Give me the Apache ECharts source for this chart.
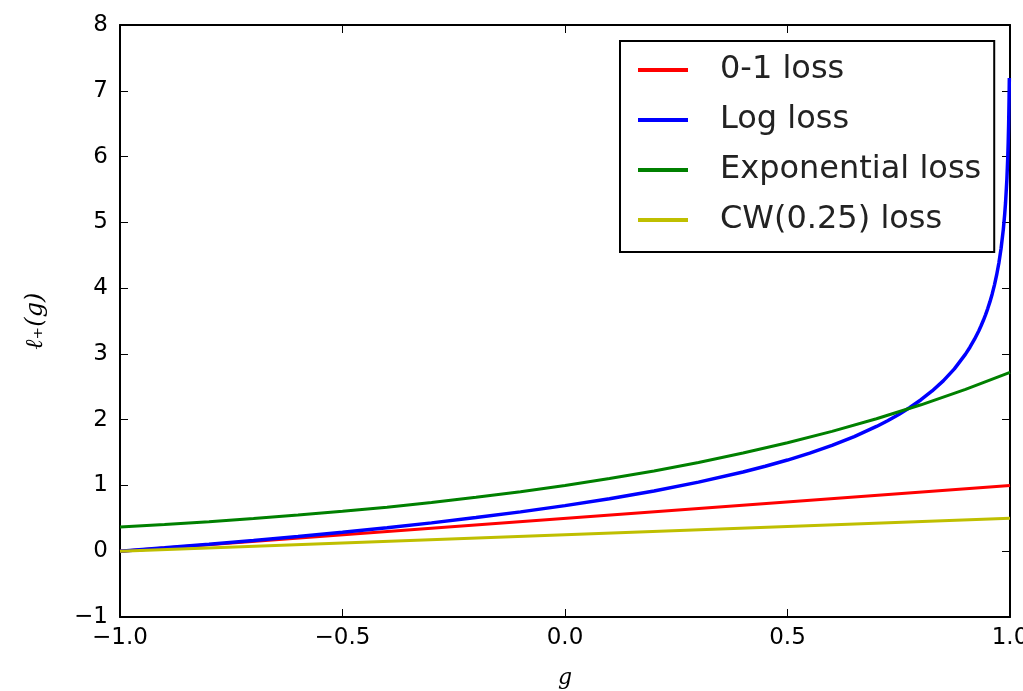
<!DOCTYPE html>
<html>
<head>
<meta charset="utf-8">
<script src="https://cdn.jsdelivr.net/npm/echarts@6/dist/echarts.min.js"></script>
<style>
html,body{margin:0;padding:0;background:#fff;}
#chart{width:1023px;height:691px;}
</style>
</head>
<body>
<div id="chart"></div>
<script>
// g values
const gLog = [-1.0,-0.9,-0.8,-0.7,-0.6,-0.5,-0.4,-0.3,-0.2,-0.1,0.0,0.1,0.2,0.3,0.4,0.45,0.5,0.55,0.6,0.65,0.7,0.725,0.75,0.775,0.8,0.825,0.85,0.875,0.9,0.91,0.92,0.93,0.935,0.94,0.945,0.95,0.955,0.96,0.965,0.97,0.975,0.98,0.985,0.988,0.99,0.993,0.995,0.996,0.997,0.998,0.9985];
const logLoss = [0.0,0.051,0.105,0.163,0.223,0.288,0.357,0.431,0.511,0.598,0.693,0.799,0.916,1.05,1.204,1.291,1.386,1.492,1.609,1.743,1.897,1.984,2.079,2.185,2.303,2.436,2.59,2.773,2.996,3.101,3.219,3.352,3.427,3.507,3.594,3.689,3.794,3.912,4.046,4.2,4.382,4.605,4.893,5.116,5.298,5.655,5.991,6.215,6.502,6.908,7.195];
const gExp = [-1.0,-0.9,-0.8,-0.7,-0.6,-0.5,-0.4,-0.3,-0.2,-0.1,0.0,0.1,0.2,0.3,0.4,0.5,0.6,0.7,0.8,0.9,1.0];
const expLoss = [0.368,0.407,0.449,0.497,0.549,0.607,0.670,0.741,0.819,0.905,1.0,1.105,1.221,1.35,1.492,1.649,1.822,2.014,2.226,2.46,2.718];
const gLin = [-1.0, 1.0];
const zeroOneLoss = [0.0, 1.0];
const cwLoss = [0.0, 0.5];
const seriesNames = ['0-1 loss','Log loss','Exponential loss','CW(0.25) loss'];
const xTicks = {min:-1, max:1, interval:0.5};
const yTicks = {min:-1, max:8, interval:1};

function pairs(xs, ys){ return xs.map((x,i)=>[x, ys[i]]); }
function minus(v, d){ const s = v.toFixed(d); return s.replace('-', '\u2212'); }

const chart = echarts.init(document.getElementById('chart'));
const tickFont = {fontFamily:'DejaVu Sans', fontSize:23, color:'#000'};
const frame = {show:true, onZero:false, lineStyle:{color:'#000', width:2}};
const tick = {show:true, inside:true, length:8, lineStyle:{color:'#000', width:1}};
chart.setOption({
  animation:false,
  backgroundColor:'#fff',
  grid:{left:120, right:13, top:25, bottom:74, containLabel:false, outerBoundsMode:'none'},
  legend:{
    left:620, top:41, orient:'vertical',
    data:seriesNames,
    icon:'rect', itemWidth:50, itemHeight:4, itemGap:18,
    padding:[13,13,16,18],
    borderColor:'#000', borderWidth:2, backgroundColor:'#fff',
    textStyle:{fontFamily:'DejaVu Sans', fontSize:32, color:'#222', lineHeight:32, padding:[0,0,0,27]}
  },
  xAxis:[
    Object.assign({type:'value', position:'bottom',
     axisLine:frame, axisTick:tick, splitLine:{show:false},
     axisLabel:Object.assign({margin:10, formatter:v=>minus(v,1)}, tickFont),
     name:'g', nameLocation:'middle', nameGap:50,
     nameTextStyle:{fontFamily:'DejaVu Serif', fontStyle:'italic', fontSize:22, color:'#000'}}, xTicks),
    Object.assign({type:'value', position:'top',
     axisLine:frame, axisTick:tick, splitLine:{show:false}, axisLabel:{show:false}}, xTicks)
  ],
  yAxis:[
    Object.assign({type:'value', position:'left',
     axisLine:frame, axisTick:tick, splitLine:{show:false},
     axisLabel:Object.assign({margin:12, formatter:v=>minus(v,0)}, tickFont),
     name:'\u2113\u208A(g)', nameLocation:'middle', nameGap:72, nameRotate:90,
     nameTextStyle:{fontFamily:'DejaVu Serif', fontStyle:'italic', fontSize:24, color:'#000'}}, yTicks),
    Object.assign({type:'value', position:'right',
     axisLine:frame, axisTick:tick, splitLine:{show:false}, axisLabel:{show:false}}, yTicks)
  ],
  series:[
    {name:seriesNames[0], type:'line', data:pairs(gLin, zeroOneLoss), showSymbol:false, color:'#ff0000', lineStyle:{width:3}},
    {name:seriesNames[1], type:'line', data:pairs(gLog, logLoss), showSymbol:false, color:'#0000ff', lineStyle:{width:3.5}},
    {name:seriesNames[2], type:'line', data:pairs(gExp, expLoss), showSymbol:false, color:'#008000', lineStyle:{width:3}},
    {name:seriesNames[3], type:'line', data:pairs(gLin, cwLoss), showSymbol:false, color:'#bfbf00', lineStyle:{width:3}}
  ]
});
</script>
</body>
</html>
